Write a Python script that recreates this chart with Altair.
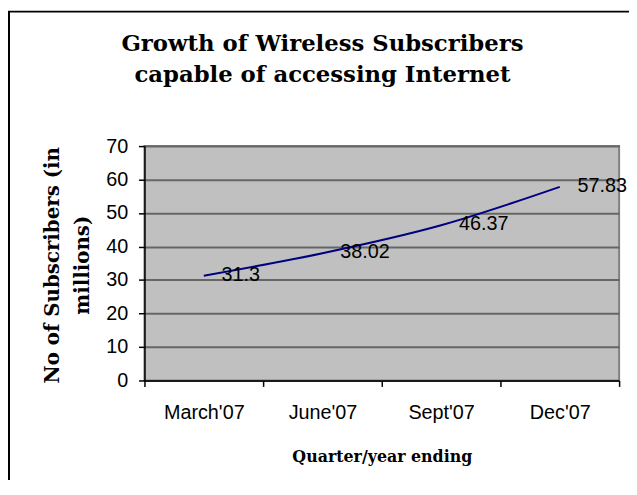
import altair as alt
import pandas as pd

quarters = ["March'07", "June'07", "Sept'07", "Dec'07"]
subscribers = [31.3, 38.02, 46.37, 57.83]
value_labels = ["31.3", "38.02", "46.37", "57.83"]
y_ticks = [0, 10, 20, 30, 40, 50, 60, 70]
title_lines = ["Growth of Wireless Subscribers", "capable of accessing Internet"]
y_title_lines = ["No of Subscribers (in", "millions)"]
x_title = "Quarter/year ending"

df = pd.DataFrame({"quarter": quarters, "subs": subscribers, "label": value_labels})
frame_df = pd.DataFrame({"k": [0]})

SERIF = "DejaVu Serif"
SANS = "Liberation Sans"

x_enc = alt.X(
    "quarter:N",
    sort=quarters,
    scale=alt.Scale(type="band", paddingInner=0, paddingOuter=0),
    axis=alt.Axis(
        title=x_title,
        labelAngle=0,
        tickBand="extent",
        grid=False,
        labelFont=SANS,
        labelFontSize=20,
        labelColor="black",
        labelPadding=16,
        labelOverlap=False,
        tickSize=6,
        tickColor="black",
        tickWidth=1.5,
        domainColor="black",
        domainWidth=1.5,
        titleFont=SERIF,
        titleFontSize=16,
        titleFontWeight="bold",
        titleColor="black",
        titleX=240,
        titleY=82,
        titleBaseline="alphabetic",
        titleAlign="center",
    ),
)

y_enc = alt.Y(
    "subs:Q",
    scale=alt.Scale(domain=[0, 70], nice=False, zero=True),
    axis=alt.Axis(
        title=y_title_lines,
        values=y_ticks,
        grid=True,
        gridColor="#666666",
        gridWidth=2,
        labelFont=SANS,
        labelFontSize=20,
        labelColor="black",
        labelPadding=11,
        labelOverlap=False,
        tickSize=6,
        tickColor="black",
        tickWidth=1.5,
        domainColor="black",
        domainWidth=1.5,
        titleFont=SERIF,
        titleFontSize=20,
        titleFontWeight="bold",
        titleColor="black",
        titleLineHeight=30,
        titleX=-83,
        titleY=120,
        titleAngle=270,
        titleBaseline="bottom",
        titleAlign="center",
    ),
)

line = alt.Chart(df).mark_line(color="#000080", strokeWidth=2, interpolate="monotone").encode(
    x=x_enc, y=y_enc
)

labels = alt.Chart(df).mark_text(
    align="left", baseline="middle", dx=18, dy=-1, font=SANS, fontSize=20, color="black"
).encode(x=x_enc, y=y_enc, text="label:N")

frame = alt.Chart(frame_df).mark_rect(
    fillOpacity=0, stroke="black", strokeWidth=2
).encode(
    x=alt.value(-137), x2=alt.value(800), y=alt.value(-136), y2=alt.value(700)
)

chart = alt.layer(line, labels, frame).properties(
    width=480,
    height=237,
    autosize=alt.AutoSizeParams(type="none"),
    padding={"left": 138, "top": 137, "right": 10, "bottom": 98},
    title=alt.Title(
        title_lines,
        font=SERIF,
        fontSize=23,
        fontWeight="bold",
        color="black",
        anchor="middle",
        dx=-60,
        offset=-77,
        lineHeight=31,
    ),
).configure(
    background="white",
    view=alt.ViewConfig(fill="#C0C0C0", stroke="#808080", strokeWidth=2),
)

chart.save("out.html", embed_options={"renderer": "svg", "actions": False})
